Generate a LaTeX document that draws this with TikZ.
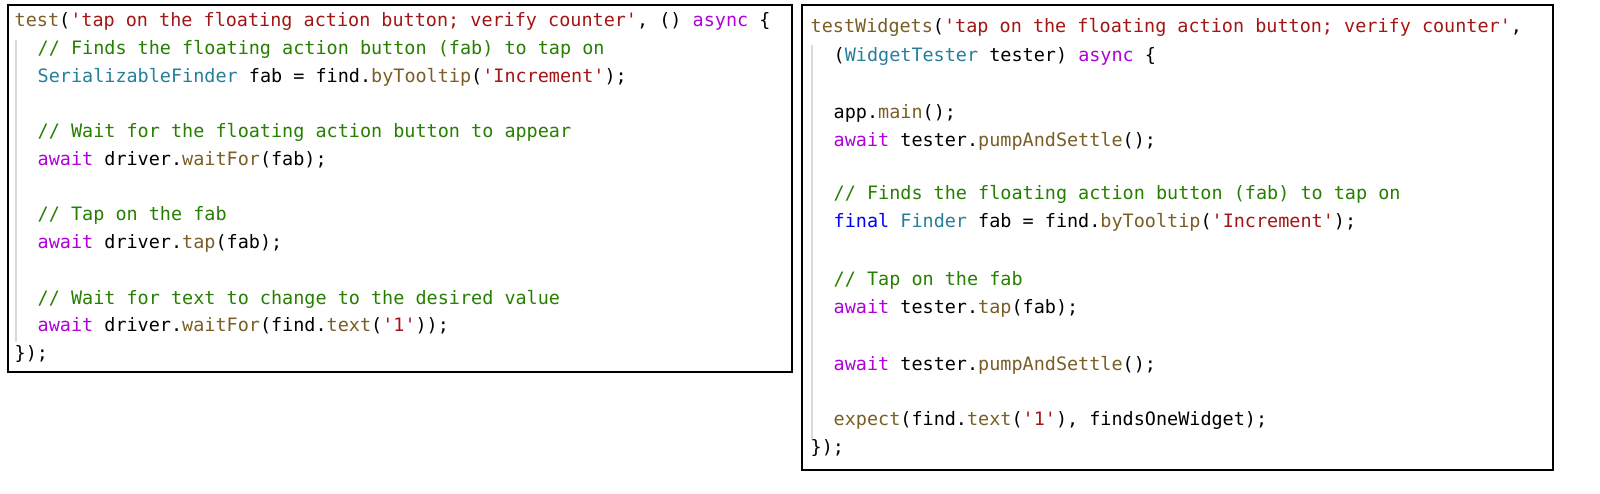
\documentclass[tikz,border=0pt]{standalone}
\usepackage{fontspec}
\setmonofont{DejaVu Sans Mono}
\definecolor{kwc}{HTML}{AF00DB}
\definecolor{fnc}{HTML}{795E26}
\definecolor{strc}{HTML}{A31515}
\definecolor{cmc}{HTML}{267F00}
\definecolor{tyc}{HTML}{267F99}
\definecolor{blc}{HTML}{0000FF}
\newcommand\kw[1]{\textcolor{kwc}{#1}}
\newcommand\fn[1]{\textcolor{fnc}{#1}}
\newcommand\st[1]{\textcolor{strc}{#1}}
\newcommand\cm[1]{\textcolor{cmc}{#1}}
\newcommand\ty[1]{\textcolor{tyc}{#1}}
\newcommand\bl[1]{\textcolor{blc}{#1}}
\tikzset{
  code/.style={anchor=base west,inner sep=0pt,font=\ttfamily\fontsize{5.25}{6}\selectfont},
  box/.style={draw=black,line width=0.35pt},
  guide/.style={draw=black!15,line width=0.4pt}
}
\begin{document}
\begin{tikzpicture}[x=0.01cm,y=-0.01cm]
\useasboundingbox (0,0) rectangle (1600,493);
% left box
\draw[box] (8,5) rectangle (792,372);
\draw[guide] (16,40) -- (16,342);
\node[code] (l1) at (14,26) {\fn{test}(\st{'tap on the floating action button; verify counter'}, () \kw{async} \{};
\node[code] (l2) at (37,54) {\cm{// Finds the floating action button (fab) to tap on}};
\node[code] (l3) at (37,82) {\ty{SerializableFinder} fab = find.\fn{byTooltip}(\st{'Increment'});};
\node[code] (l5) at (37,137) {\cm{// Wait for the floating action button to appear}};
\node[code] (l6) at (37,165) {\kw{await} driver.\fn{waitFor}(fab);};
\node[code] (l8) at (37,220) {\cm{// Tap on the fab}};
\node[code] (l9) at (37,248) {\kw{await} driver.\fn{tap}(fab);};
\node[code] (l11) at (37,304) {\cm{// Wait for text to change to the desired value}};
\node[code] (l12) at (37,331) {\kw{await} driver.\fn{waitFor}(find.\fn{text}(\st{'1'}));};
\node[code] (l13) at (14,359) {\});};
% right box
\draw[box] (802,5) rectangle (1553,470);
\draw[guide] (812,45) -- (812,440);
\node[code] (r1) at (810,32) {\fn{testWidgets}(\st{'tap on the floating action button; verify counter'},};
\node[code] (r2) at (833,61) {(\ty{WidgetTester} tester) \kw{async} \{};
\node[code] (r4) at (833,118) {app.\fn{main}();};
\node[code] (r5) at (833,146) {\kw{await} tester.\fn{pumpAndSettle}();};
\node[code] (r7) at (833,199) {\cm{// Finds the floating action button (fab) to tap on}};
\node[code] (r8) at (833,227) {\bl{final} \ty{Finder} fab = find.\fn{byTooltip}(\st{'Increment'});};
\node[code] (r10) at (833,285) {\cm{// Tap on the fab}};
\node[code] (r11) at (833,313) {\kw{await} tester.\fn{tap}(fab);};
\node[code] (r13) at (833,370) {\kw{await} tester.\fn{pumpAndSettle}();};
\node[code] (r15) at (833,425) {\fn{expect}(find.\fn{text}(\st{'1'}), findsOneWidget);};
\node[code] (r16) at (810,453) {\});};
\end{tikzpicture}
\end{document}
